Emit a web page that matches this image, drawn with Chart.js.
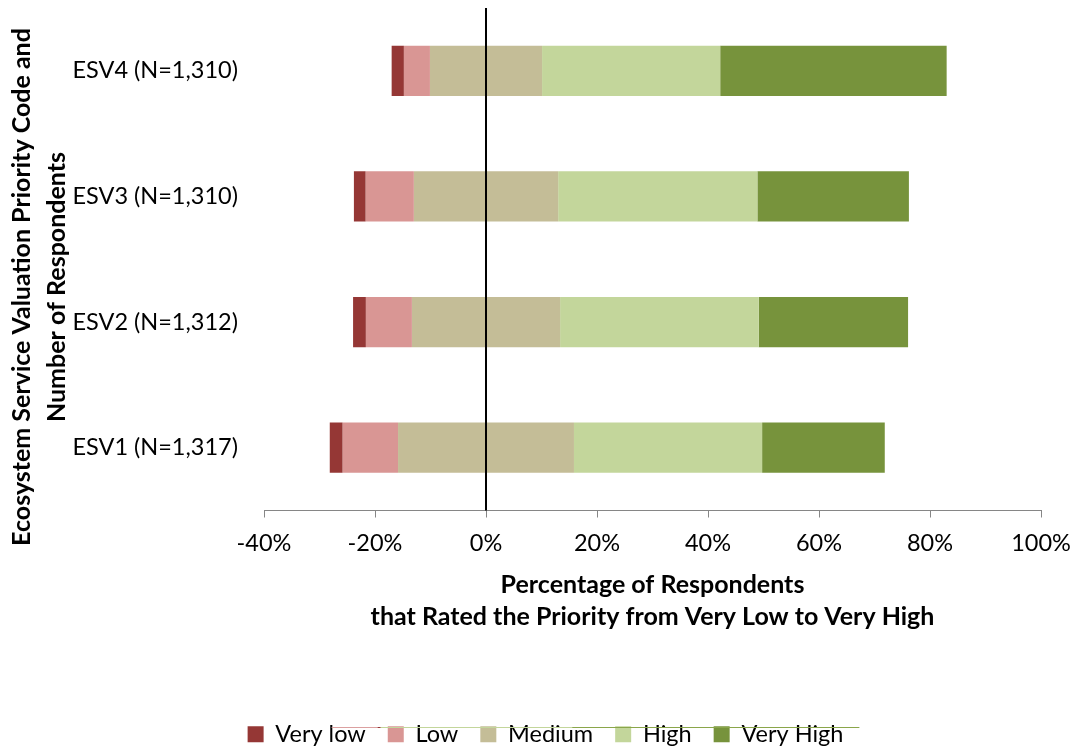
<!DOCTYPE html>
<html>
<head>
<meta charset="utf-8">
<script src="https://cdn.jsdelivr.net/npm/chart.js@4.4.1/dist/chart.umd.min.js"></script>
<style>
  html, body { margin: 0; padding: 0; background: #ffffff; }
  #wrap { width: 1076px; height: 748px; position: relative; }
</style>
</head>
<body>
<div id="wrap"><canvas id="chart"></canvas></div>
<script>
// Ratings per priority (percent of respondents), top row first
const categories = ['ESV4 (N=1,310)', 'ESV3 (N=1,310)', 'ESV2 (N=1,312)', 'ESV1 (N=1,317)'];
const veryLow  = [2.2, 2.1, 2.3, 2.3];
const low      = [4.7, 8.7, 8.3, 10.0];
const medium   = [20.2, 26.0, 26.7, 31.7];
const high     = [32.1, 35.9, 35.8, 33.9];
const veryHigh = [40.8, 27.3, 26.9, 22.1];

const seriesNames  = ['Very low', 'Low', 'Medium', 'High', 'Very High'];
const seriesColors = ['#953735', '#d99694', '#c4bd97', '#c3d69b', '#77933c'];

const xMin = -40, xMax = 100, xStep = 20;
const yTitle = ['Ecosystem Service Valuation Priority Code and', 'Number of Respondents'];
const xTitle = ['Percentage of Respondents', 'that Rated the Priority from Very Low to Very High'];

const FONT = 'Lato';

// Diverging layout: Medium is centred on zero, lower ratings extend left, higher ratings right
function spans() {
  const out = [[], [], [], [], []];
  categories.forEach((_, i) => {
    const half = medium[i] / 2;
    const left = -(veryLow[i] + low[i] + half);
    out[0].push([left, left + veryLow[i]]);
    out[1].push([left + veryLow[i], -half]);
    out[2].push([-half, half]);
    out[3].push([half, half + high[i]]);
    out[4].push([half + high[i], half + high[i] + veryHigh[i]]);
  });
  return out;
}
const ranges = spans();

const datasets = seriesNames.map((name, k) => ({
  label: name,
  data: ranges[k],
  backgroundColor: seriesColors[k],
  borderWidth: 0,
  grouped: false,
  categoryPercentage: 1,
  barPercentage: 0.4
}));

// Black zero line drawn over the bars
const zeroLine = {
  id: 'zeroLine',
  afterDatasetsDraw(chart) {
    const x = Math.round(chart.scales.x.getPixelForValue(0));
    const { top, bottom } = chart.chartArea;
    const ctx = chart.ctx;
    ctx.save();
    ctx.strokeStyle = '#000000';
    ctx.lineWidth = 2;
    ctx.beginPath();
    ctx.moveTo(x, top);
    ctx.lineTo(x, bottom);
    ctx.stroke();
    ctx.restore();
  }
};

// Rotated two-line title for the category axis
const sideTitle = {
  id: 'sideTitle',
  afterDraw(chart) {
    const ctx = chart.ctx;
    ctx.save();
    ctx.font = 'bold 25px ' + FONT;
    ctx.fillStyle = '#000000';
    ctx.textAlign = 'center';
    ctx.textBaseline = 'middle';
    const cy = 287;
    const xs = [22, 57];
    yTitle.forEach((line, i) => {
      ctx.save();
      ctx.translate(xs[i], cy);
      ctx.rotate(-Math.PI / 2);
      ctx.fillText(line, 0, 0);
      ctx.restore();
    });
    ctx.restore();
  }
};

// Thin connector strokes running through the legend row
const legendStrokes = {
  id: 'legendStrokes',
  afterDraw(chart) {
    const lg = chart.legend;
    if (!lg || !lg.legendHitBoxes || lg.legendHitBoxes.length < 5) return;
    const hb = lg.legendHitBoxes;
    const y = Math.round(hb[0].top + 4) + 0.5;
    const ctx = chart.ctx;
    const seg = (x1, x2, color) => {
      ctx.strokeStyle = color;
      ctx.beginPath();
      ctx.moveTo(x1, y);
      ctx.lineTo(x2, y);
      ctx.stroke();
    };
    ctx.save();
    ctx.lineWidth = 1;
    const a = hb[0].left + 84, b = hb[1].left - 8, c = hb[3].left - 43, d = hb[4].left + hb[4].width + 16;
    seg(a, b, '#dba0a0');
    seg(b - 2, b + 1, '#953735');
    seg(b + 1, c, '#c3d69b');
    seg(c, d, '#8aa64a');
    ctx.restore();
  }
};

new Chart(document.getElementById('chart'), {
  type: 'bar',
  data: { labels: categories, datasets },
  plugins: [zeroLine, sideTitle, legendStrokes],
  options: {
    indexAxis: 'y',
    responsive: true,
    maintainAspectRatio: false,
    animation: false,
    layout: { padding: { left: 50, right: 35, top: 8, bottom: -8 } },
    plugins: {
      tooltip: { enabled: false },
      legend: {
        position: 'bottom',
        labels: {
          boxWidth: 16,
          boxHeight: 16,
          padding: 22,
          color: '#000000',
          font: { family: FONT, size: 23.5 }
        }
      }
    },
    scales: {
      x: {
        type: 'linear',
        min: xMin,
        max: xMax,
        grid: {
          drawOnChartArea: false,
          drawTicks: true,
          tickLength: 7,
          tickColor: '#868686'
        },
        border: { display: true, color: '#868686', width: 1 },
        ticks: {
          stepSize: xStep,
          padding: 12,
          color: '#000000',
          font: { family: FONT, size: 23.5 },
          callback: v => v + '%'
        },
        title: {
          display: true,
          text: xTitle,
          color: '#000000',
          font: { family: FONT, size: 25, weight: 'bold', lineHeight: 1.28 },
          padding: { top: 0, bottom: 68 }
        },
        afterFit(scale) {
          scale.height = 190;
          scale.paddingLeft = 0;
          scale.paddingRight = 0;
        }
      },
      y: {
        type: 'category',
        grid: { display: false, drawTicks: true, tickLength: 26 },
        border: { display: false },
        ticks: {
          padding: 0,
          color: '#000000',
          font: { family: FONT, size: 23.5 }
        },
        afterFit(scale) {
          scale.width = 214;
          scale.paddingTop = 0;
          scale.paddingBottom = 0;
        }
      }
    }
  }
});
</script>
</body>
</html>
